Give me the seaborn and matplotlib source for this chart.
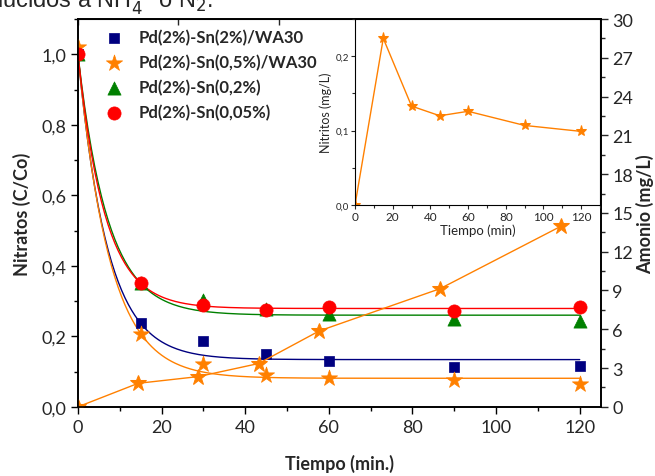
import numpy as np
import pandas as pd
import seaborn as sns
import matplotlib.pyplot as plt
from matplotlib.ticker import MultipleLocator

sns.set_style("ticks")
plt.rcParams['font.family'] = ['Lato', 'DejaVu Sans']
plt.rcParams['mathtext.fontset'] = 'dejavusans'

# nitrate data C/Co
t = [0, 15, 30, 45, 60, 90, 120]
sn2_wa30 = [1.0, 0.237, 0.187, 0.150, 0.130, 0.112, 0.115]
sn05_wa30 = [1.02, 0.207, 0.121, 0.090, 0.082, 0.075, 0.064]
sn02 = [1.0, 0.35, 0.302, 0.277, 0.262, 0.250, 0.244]
sn005 = [1.0, 0.35, 0.288, 0.274, 0.284, 0.271, 0.283]

# exponential fit parameters (plateau, rate)
plateau = [0.134, 0.081, 0.260, 0.279]
rate_k = [0.142, 0.132, 0.140, 0.154]

# ammonium (right axis), Sn(0,5%)/WA30
t_amonio = [0, 14.4, 28.8, 43.2, 57.7, 86.6, 115.5]
amonio = [0.0, 1.82, 2.34, 3.35, 5.87, 9.14, 13.97]

# nitrite inset
t_nitrito = [0, 15, 30, 45, 60, 90, 120]
nitrito = [0.0, 0.224, 0.133, 0.120, 0.126, 0.107, 0.099]

labels = ["Pd(2%)-Sn(2%)/WA30", "Pd(2%)-Sn(0,5%)/WA30", "Pd(2%)-Sn(0,2%)", "Pd(2%)-Sn(0,05%)"]
colors = ["#000080", "#FF8000", "#008000", "#FF0000"]
markers = ["s", "*", "^", "o"]
sizes = [60, 150, 90, 90]
series = [sn2_wa30, sn05_wa30, sn02, sn005]

fig = plt.figure(figsize=(6.55, 4.77), dpi=100)
ax = fig.add_axes([0.119, 0.145, 0.798, 0.813])

tt = np.linspace(0, 120, 300)
for i in range(4):
    fit = plateau[i] + (1 - plateau[i]) * np.exp(-rate_k[i] * tt)
    sns.lineplot(x=tt, y=fit, color=colors[i], lw=1, ax=ax, legend=False)
for i in range(4):
    sns.scatterplot(x=t, y=series[i], marker=markers[i], color=colors[i], s=sizes[i],
                    edgecolor=colors[i], linewidth=0.5, ax=ax, label=labels[i], zorder=5)

ax.set_xlim(0, 125)
ax.set_ylim(0, 1.1)
ax.xaxis.set_major_locator(MultipleLocator(20))
ax.xaxis.set_minor_locator(MultipleLocator(10))
ax.yaxis.set_major_locator(MultipleLocator(0.2))
ax.yaxis.set_minor_locator(MultipleLocator(0.1))
ax.yaxis.set_major_formatter(lambda v, p: f"{v:.1f}".replace(".", ","))
ax.tick_params(which='major', direction='out', length=5, width=1, labelsize=13, color='black')
ax.tick_params(which='minor', direction='out', length=3, width=1, color='black')
ax.set_xlabel("Tiempo (min.)", fontsize=13, fontweight='bold', labelpad=14)
ax.set_ylabel("Nitratos (C/Co)", fontsize=13, fontweight='bold', labelpad=7)
for s in ax.spines.values():
    s.set_linewidth(1.2)
    s.set_color('black')

top = ax.secondary_xaxis('top')
top.set_xticks([0, 24, 48, 72, 96, 120])
top.tick_params(direction='in', length=4, width=1, labeltop=False)
top.set_xticklabels([])

leg = ax.legend(loc='upper left', bbox_to_anchor=(0.015, 1.005), frameon=False,
                prop={'weight': 'bold', 'size': 12}, handletextpad=0.5,
                labelspacing=0.52, borderaxespad=0.3)

ax2 = ax.twinx()
sns.lineplot(x=t_amonio, y=amonio, color="#FF8000", lw=1, marker='*', markersize=12,
             markeredgecolor="#FF8000", sort=False, ax=ax2, legend=False)
ax2.set_ylim(0, 30)
ax2.yaxis.set_major_locator(MultipleLocator(3))
ax2.yaxis.set_minor_locator(MultipleLocator(1.5))
ax2.tick_params(which='major', direction='out', length=5, width=1, labelsize=13)
ax2.tick_params(which='minor', direction='out', length=3, width=1)
ax2.set_ylabel("Amonio (mg/L)", fontsize=13, fontweight='bold', labelpad=2)
for s in ax2.spines.values():
    s.set_linewidth(1.2)
    s.set_color('black')

# inset
axin = fig.add_axes([0.542, 0.568, 0.374, 0.39])
sns.lineplot(x=t_nitrito, y=nitrito, color="#FF8000", lw=1, marker='*', markersize=8,
             markeredgecolor="#FF8000", sort=False, ax=axin, legend=False)
axin.set_xlim(0, 130)
axin.set_ylim(0, 0.25)
axin.xaxis.set_major_locator(MultipleLocator(20))
axin.xaxis.set_minor_locator(MultipleLocator(10))
axin.yaxis.set_major_locator(MultipleLocator(0.1))
axin.yaxis.set_minor_locator(MultipleLocator(0.05))
axin.yaxis.set_major_formatter(lambda v, p: f"{v:.1f}".replace(".", ","))
axin.tick_params(which='major', direction='out', length=3, width=0.8, labelsize=7, pad=1.5)
axin.tick_params(which='minor', direction='out', length=2, width=0.8)
axin.tick_params(axis='x', labelsize=8.5)
axin.set_xlabel("Tiempo (min)", fontsize=9.5, labelpad=1)
axin.set_ylabel("Nitritos (mg/L)", fontsize=9, labelpad=2)
for s in axin.spines.values():
    s.set_linewidth(0.8)
    s.set_color('black')

fig.text(213 / 655, 1 - 7 / 477, "reducidos a NH$_4^+$ o N$_2$.", ha='right', va='baseline',
         fontsize=17, family='Liberation Sans')

fig.savefig("out.png", dpi=100)
